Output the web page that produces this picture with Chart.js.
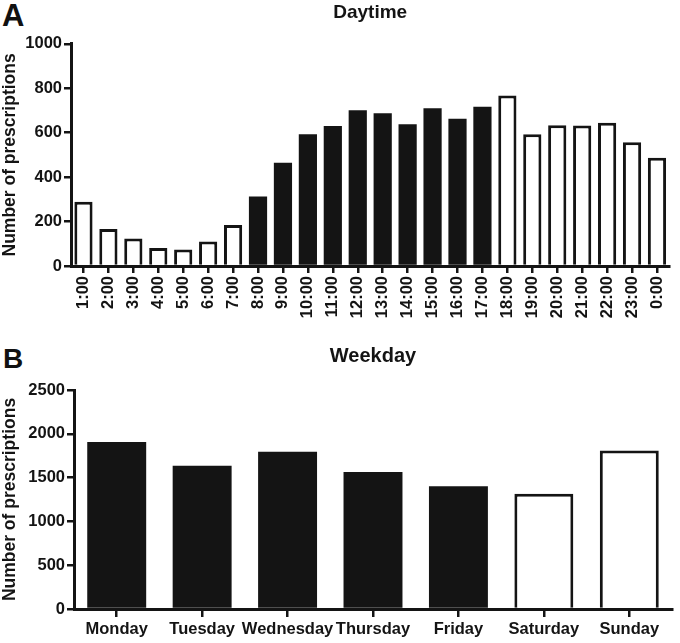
<!DOCTYPE html>
<html>
<head>
<meta charset="utf-8">
<script src="https://cdn.jsdelivr.net/npm/chart.js@4"></script>
<style>
  html, body { margin: 0; padding: 0; background: #fff; }
  body { width: 680px; height: 643px; position: relative; overflow: hidden; font-family: "Liberation Sans", Arial, sans-serif; }
  .panel { position: absolute; left: 0; }
  .letter { position: absolute; font-weight: bold; color: #111; line-height: 1; }
</style>
</head>
<body>
<div class="letter" id="la" style="left:2px; top:0px; font-size:31px;">A</div>
<div class="letter" id="lb" style="left:3px; top:345px; font-size:28px;">B</div>
<canvas id="cA" class="panel" width="680" height="330" style="top:0px;width:680px;height:330px;"></canvas>
<canvas id="cB" class="panel" width="680" height="313" style="top:330px;width:680px;height:313px;"></canvas>
<script>
// ---- data ----
const hourLabels = ["1:00","2:00","3:00","4:00","5:00","6:00","7:00","8:00","9:00","10:00","11:00","12:00",
                    "13:00","14:00","15:00","16:00","17:00","18:00","19:00","20:00","21:00","22:00","23:00","0:00"];
const hourCounts = [289,167,124,81,74,110,184,313,465,593,630,701,687,638,710,663,717,767,593,633,632,645,557,487];
const dayLabels = ["Monday","Tuesday","Wednesday","Thursday","Friday","Saturday","Sunday"];
const dayCounts = [1905,1635,1795,1565,1402,1315,1808];
const hourTickStep = 200, hourMax = 1000;
const dayTickStep = 500, dayMax = 2500;
const yTitle = "Number of prescriptions";

// ---- styling ----
const INK = "#141414";
const FONT = "'Liberation Sans', Arial, Helvetica, sans-serif";
// office hours 8:00-17:00 and weekdays are filled black
const hourDark = hourLabels.map(l => { const h = parseInt(l, 10); return h >= 8 && h <= 17; });
const dayDark = dayLabels.map((l, i) => i < 5);

function makeChart(canvasId, labels, values, dark, cfg) {
  return new Chart(document.getElementById(canvasId), {
    type: "bar",
    data: {
      labels: labels,
      datasets: [{
        data: values,
        backgroundColor: dark.map(d => d ? INK : "#ffffff"),
        borderColor: INK,
        borderWidth: dark.map(d => d ? 0 : 3),
        borderSkipped: "start",
        categoryPercentage: 1.0,
        barPercentage: cfg.barPct
      }]
    },
    options: {
      responsive: false,
      animation: false,
      devicePixelRatio: 1,
      layout: { padding: { left: 0, right: cfg.padRight, top: 0, bottom: 0 } },
      plugins: {
        legend: { display: false },
        tooltip: { enabled: false },
        title: {
          display: true,
          text: cfg.title,
          fullSize: false,
          color: INK,
          font: { family: FONT, size: cfg.titleSize, weight: "bold" },
          padding: { top: cfg.titlePadTop, bottom: cfg.titlePadBottom }
        }
      },
      scales: {
        x: {
          offset: true,
          grid: { display: true, offset: false, drawOnChartArea: false, drawTicks: true, tickLength: cfg.xTickLen, color: INK, lineWidth: 2.5 },
          border: { display: true, color: INK, width: 3 },
          ticks: {
            autoSkip: false,
            color: INK,
            padding: cfg.xLabelPad,
            minRotation: cfg.rot, maxRotation: cfg.rot,
            font: { family: FONT, size: 16.5, weight: "bold" }
          },
          afterFit: s => { s.height = cfg.xHeight; }
        },
        y: {
          min: 0, max: cfg.max,
          grid: { display: true, drawOnChartArea: false, drawTicks: true, tickLength: 7, color: INK, lineWidth: 2.5 },
          border: { display: true, color: INK, width: 3 },
          ticks: {
            stepSize: cfg.step,
            color: INK,
            padding: 2,
            callback: v => String(v),
            font: { family: FONT, size: 16.5, weight: "bold" }
          },
          title: {
            display: true,
            text: yTitle,
            color: INK,
            padding: { top: 0, bottom: 0 },
            font: { family: FONT, size: 17.5, weight: "bold" }
          },
          afterFit: s => { s.width = cfg.yWidth; }
        }
      }
    }
  });
}

makeChart("cA", hourLabels, hourCounts, hourDark, {
  title: "Daytime", titleSize: 19, titlePadTop: 1, titlePadBottom: 20,
  padRight: 10, yWidth: 71, xHeight: 64, xTickLen: 7, xLabelPad: 3, rot: 90,
  max: hourMax, step: hourTickStep, barPct: 0.73
});
makeChart("cB", dayLabels, dayCounts, dayDark, {
  title: "Weekday", titleSize: 20, titlePadTop: 14, titlePadBottom: 22,
  padRight: 8, yWidth: 74, xHeight: 34, xTickLen: 8, xLabelPad: 3, rot: 0,
  max: dayMax, step: dayTickStep, barPct: 0.69
});
</script>
</body>
</html>
